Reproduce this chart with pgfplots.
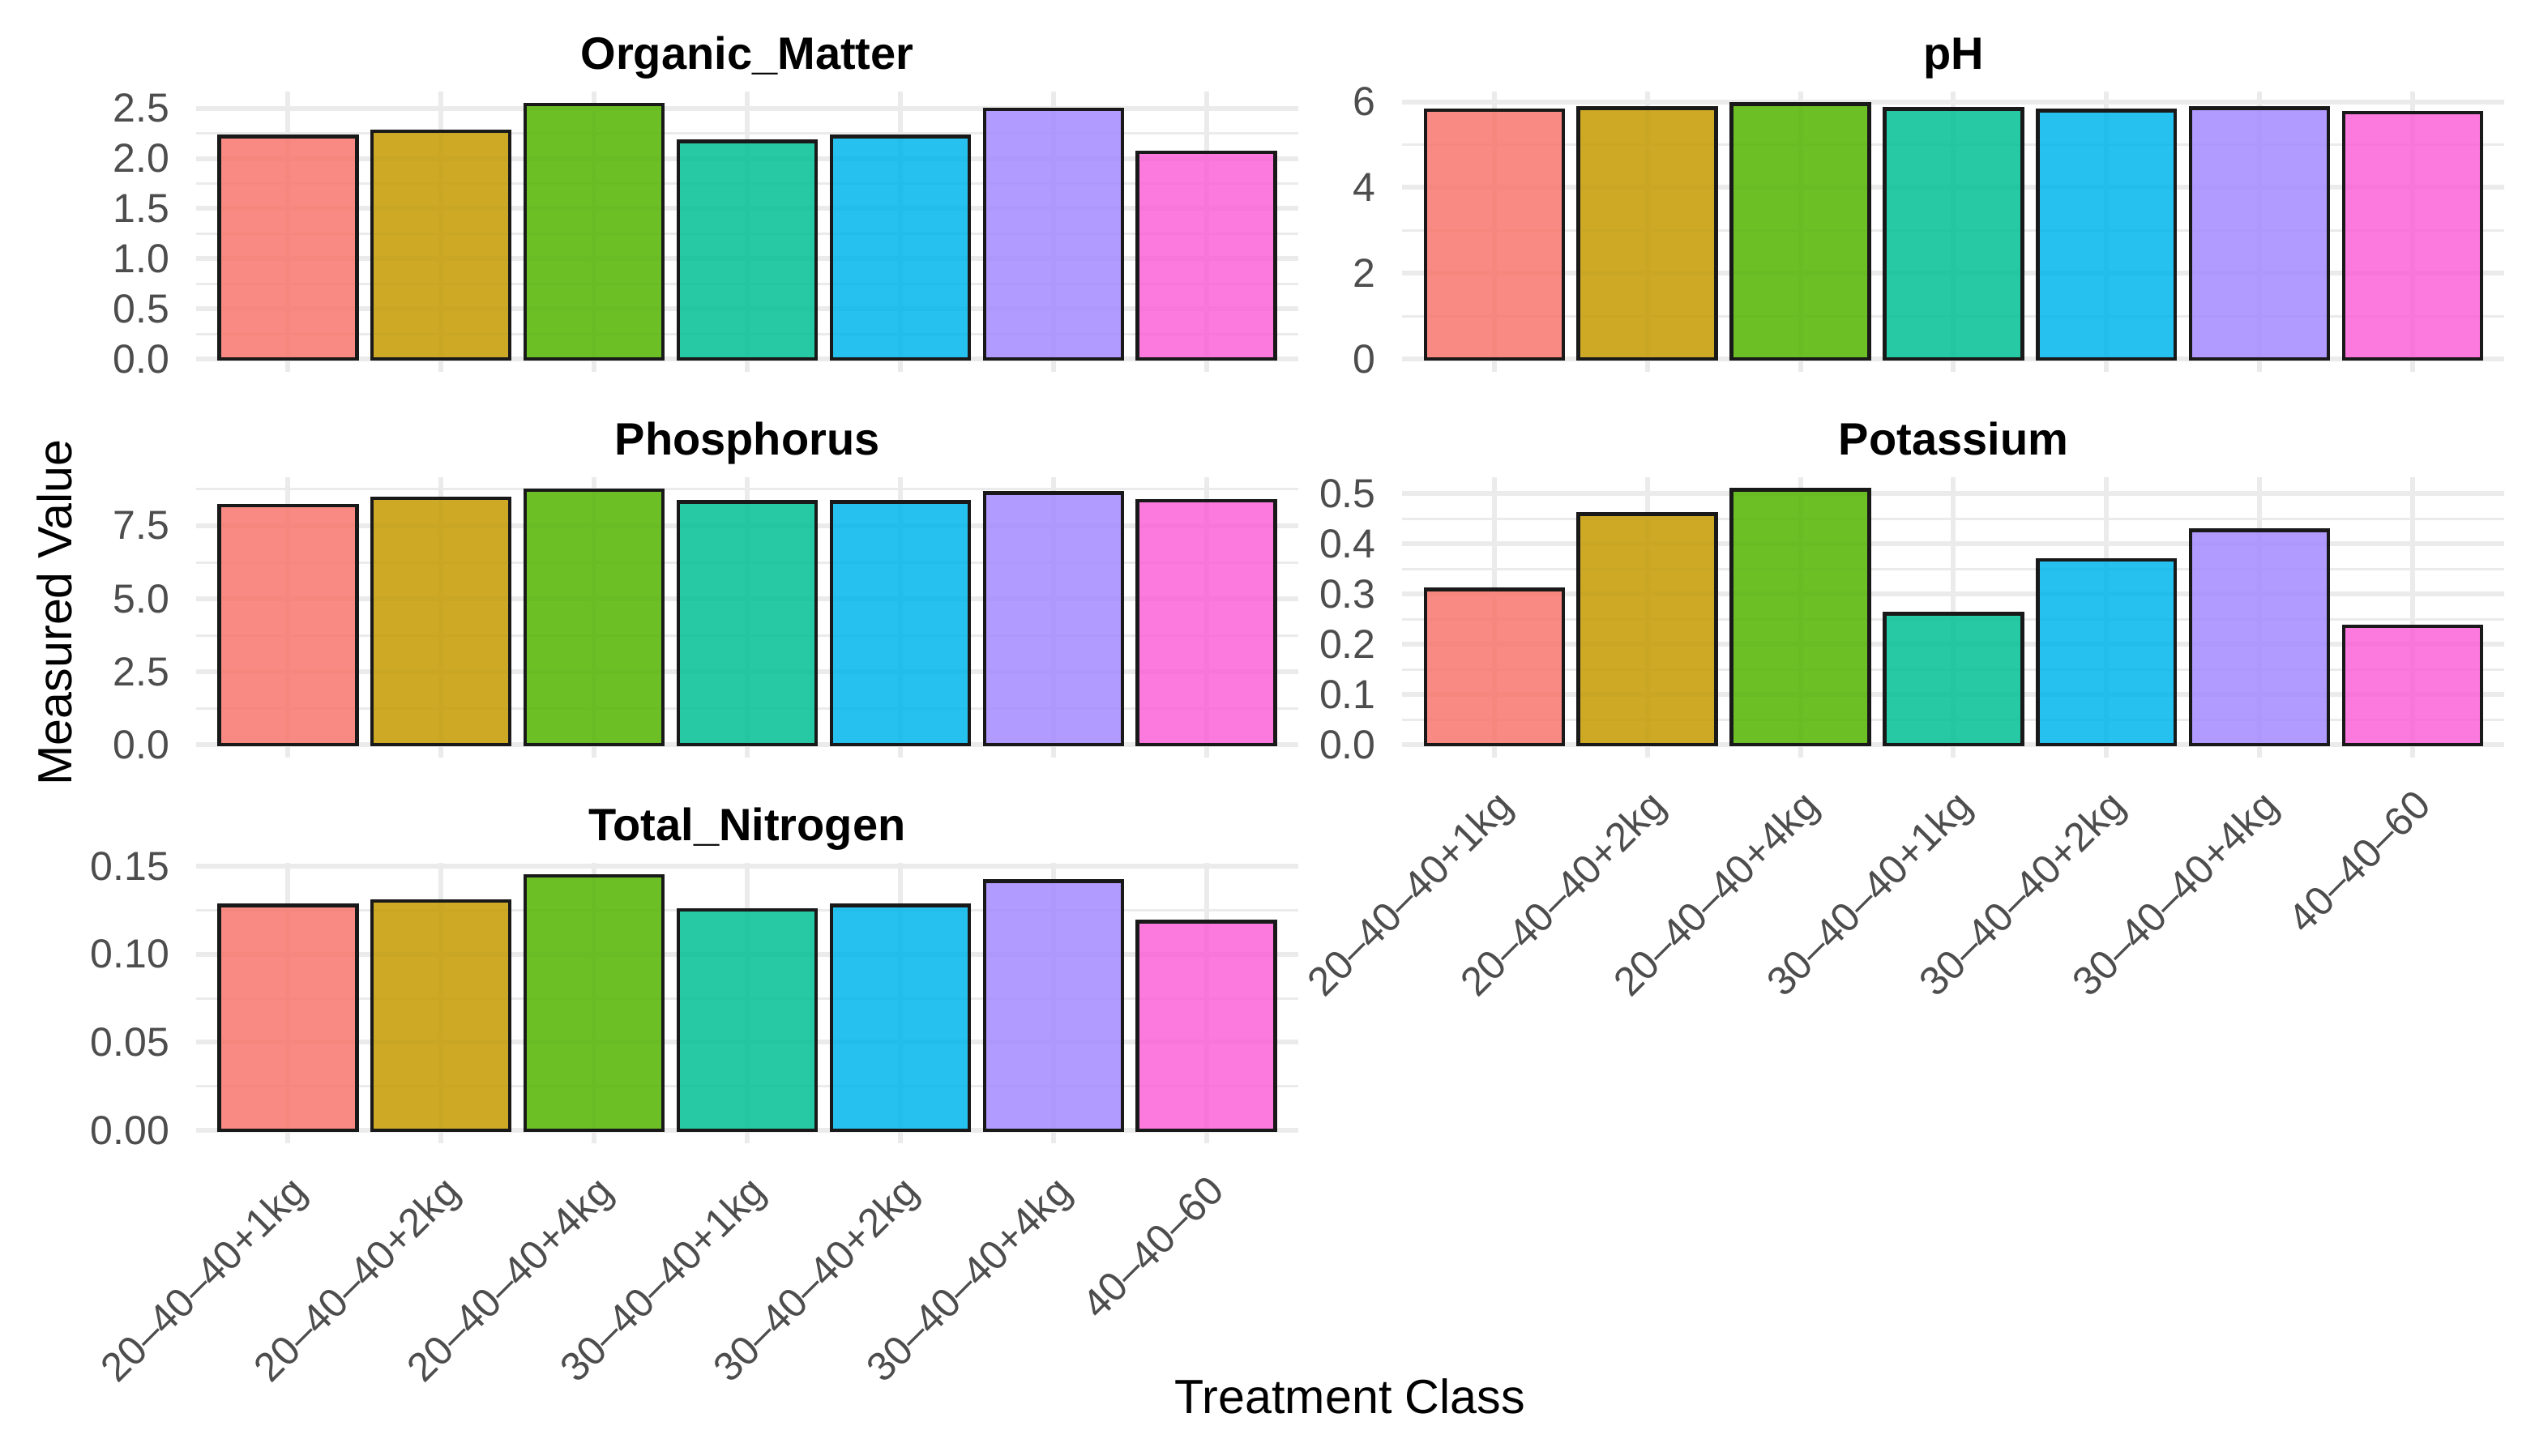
\documentclass[border=0pt]{standalone}
\usepackage{fontspec}
\setmainfont{Liberation Sans}
\usepackage{pgfplots}
\pgfplotsset{compat=1.18}
\definecolor{c1}{HTML}{F8766D}
\definecolor{c2}{HTML}{C49A00}
\definecolor{c3}{HTML}{53B400}
\definecolor{c4}{HTML}{00C094}
\definecolor{c5}{HTML}{00B6EB}
\definecolor{c6}{HTML}{A58AFF}
\definecolor{c7}{HTML}{FB61D7}
\definecolor{gridc}{HTML}{EBEBEB}
\definecolor{tickc}{HTML}{4D4D4D}
\pgfplotsset{
  panel/.style={
    scale only axis, width=340pt, height=86.5pt,
    xmin=0.4, xmax=7.6, xtick={1,2,3,4,5,6,7},
    axis line style={draw=none},
    major tick length=0pt, minor tick length=0pt,
    xmajorgrids, ymajorgrids, yminorgrids,
    major grid style={gridc, line width=1.5pt},
    minor grid style={gridc, line width=0.75pt},
    tick label style={font=\fontsize{12.5}{14}\selectfont, text=tickc},
    yticklabel style={anchor=east, inner sep=0pt, xshift=-8pt},
    title style={font=\bfseries\fontsize{14}{16}\selectfont, at={(0.5,1)}, anchor=base, yshift=0.75pt, inner sep=0pt},
    xticklabels={},
    anchor=south west,
  },
  bottompanel/.style={
    xticklabels={20–40–40+1kg,20–40–40+2kg,20–40–40+4kg,30–40–40+1kg,30–40–40+2kg,30–40–40+4kg,40–40–60},
    xticklabel style={yshift=-9pt, rotate=45, anchor=north east, inner sep=0pt},
  },
  bar/.style={ybar, bar width=0.9, bar shift=0pt, draw=black!90, line width=1.1pt, fill=#1, fill opacity=0.85, draw opacity=1},
}
\begin{document}
\begin{tikzpicture}
\useasboundingbox (0,0) rectangle (782pt,449.25pt);
% Organic_Matter
\begin{axis}[panel, at={(60.5pt,334.5pt)}, title={Organic\_Matter},
  ymin=-0.127, ymax=2.667,
  ytick={0,0.5,1,1.5,2,2.5}, yticklabels={0.0,0.5,1.0,1.5,2.0,2.5},
  minor ytick={0.25,0.75,1.25,1.75,2.25}]
\addplot[bar=c1] coordinates {(1,2.22)};
\addplot[bar=c2] coordinates {(2,2.27)};
\addplot[bar=c3] coordinates {(3,2.54)};
\addplot[bar=c4] coordinates {(4,2.17)};
\addplot[bar=c5] coordinates {(5,2.22)};
\addplot[bar=c6] coordinates {(6,2.49)};
\addplot[bar=c7] coordinates {(7,2.06)};
\end{axis}
% pH
\begin{axis}[panel, at={(432.6pt,334.5pt)}, title={pH},
  ymin=-0.297, ymax=6.237,
  ytick={0,2,4,6}, yticklabels={0,2,4,6},
  minor ytick={1,3,5}]
\addplot[bar=c1] coordinates {(1,5.80)};
\addplot[bar=c2] coordinates {(2,5.85)};
\addplot[bar=c3] coordinates {(3,5.94)};
\addplot[bar=c4] coordinates {(4,5.83)};
\addplot[bar=c5] coordinates {(5,5.79)};
\addplot[bar=c6] coordinates {(6,5.85)};
\addplot[bar=c7] coordinates {(7,5.74)};
\end{axis}
% Phosphorus
\begin{axis}[panel, at={(60.5pt,215.5pt)}, title={Phosphorus},
  ymin=-0.4365, ymax=9.1665,
  ytick={0,2.5,5,7.5}, yticklabels={0.0,2.5,5.0,7.5},
  minor ytick={1.25,3.75,6.25,8.75}]
\addplot[bar=c1] coordinates {(1,8.20)};
\addplot[bar=c2] coordinates {(2,8.45)};
\addplot[bar=c3] coordinates {(3,8.73)};
\addplot[bar=c4] coordinates {(4,8.32)};
\addplot[bar=c5] coordinates {(5,8.32)};
\addplot[bar=c6] coordinates {(6,8.62)};
\addplot[bar=c7] coordinates {(7,8.36)};
\end{axis}
% Potassium
\begin{axis}[panel, bottompanel, at={(432.6pt,215.5pt)}, title={Potassium},
  ymin=-0.02535, ymax=0.53235,
  ytick={0,0.1,0.2,0.3,0.4,0.5}, yticklabels={0.0,0.1,0.2,0.3,0.4,0.5},
  minor ytick={0.05,0.15,0.25,0.35,0.45}]
\addplot[bar=c1] coordinates {(1,0.309)};
\addplot[bar=c2] coordinates {(2,0.459)};
\addplot[bar=c3] coordinates {(3,0.507)};
\addplot[bar=c4] coordinates {(4,0.261)};
\addplot[bar=c5] coordinates {(5,0.368)};
\addplot[bar=c6] coordinates {(6,0.427)};
\addplot[bar=c7] coordinates {(7,0.236)};
\end{axis}
% Total_Nitrogen
\begin{axis}[panel, bottompanel, at={(60.5pt,96.5pt)}, title={Total\_Nitrogen},
  ymin=-0.00723, ymax=0.15183,
  ytick={0,0.05,0.1,0.15}, yticklabels={0.00,0.05,0.10,0.15},
  minor ytick={0.025,0.075,0.125}]
\addplot[bar=c1] coordinates {(1,0.1277)};
\addplot[bar=c2] coordinates {(2,0.1303)};
\addplot[bar=c3] coordinates {(3,0.1446)};
\addplot[bar=c4] coordinates {(4,0.1251)};
\addplot[bar=c5] coordinates {(5,0.1277)};
\addplot[bar=c6] coordinates {(6,0.1415)};
\addplot[bar=c7] coordinates {(7,0.1185)};
\end{axis}
\node[anchor=base, font=\fontsize{14.8}{17}\selectfont, inner sep=0pt] at (416.5pt,13pt) {Treatment Class};
\node[anchor=base, rotate=90, font=\fontsize{14.8}{17}\selectfont, inner sep=0pt] at (22pt,260.25pt) {Measured Value};
\end{tikzpicture}
\end{document}
